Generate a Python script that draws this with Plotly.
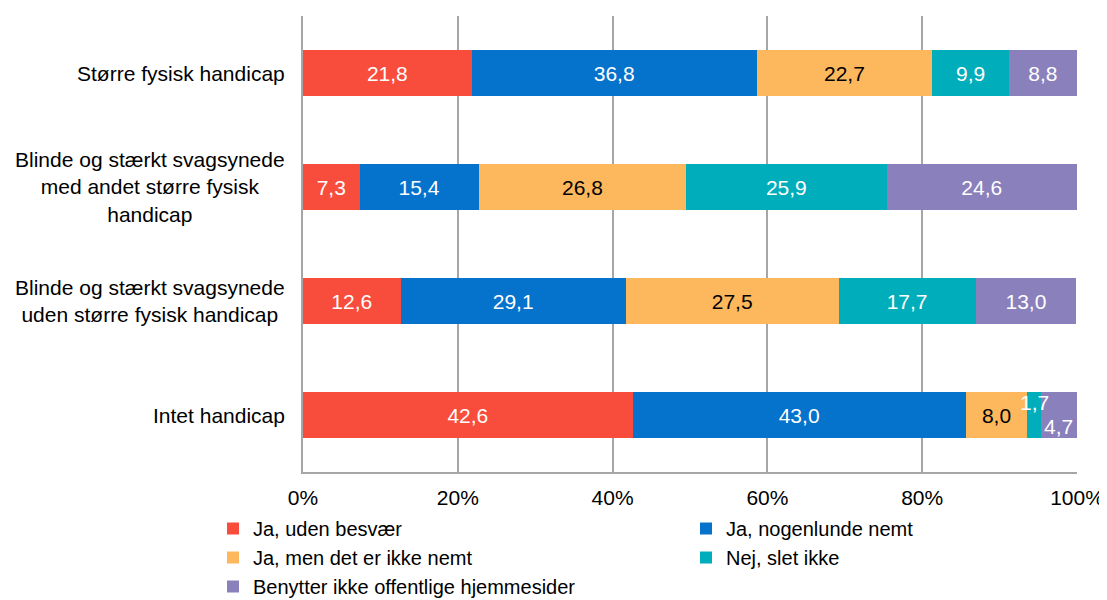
import plotly.graph_objects as go

categories = [
    "Større fysisk handicap",
    "Blinde og stærkt svagsynede<br>med andet større fysisk<br>handicap",
    "Blinde og stærkt svagsynede<br>uden større fysisk handicap",
    "Intet handicap",
]
series_names = [
    "Ja, uden besvær",
    "Ja, nogenlunde nemt",
    "Ja, men det er ikke nemt",
    "Nej, slet ikke",
    "Benytter ikke offentlige hjemmesider",
]
ja_uden = [21.8, 7.3, 12.6, 42.6]
ja_nogenlunde = [36.8, 15.4, 29.1, 43.0]
ja_men = [22.7, 26.8, 27.5, 8.0]
nej = [9.9, 25.9, 17.7, 1.7]
benytter_ikke = [8.8, 24.6, 13.0, 4.7]
x_ticks = [0, 20, 40, 60, 80, 100]
x_tick_labels = ["0%", "20%", "40%", "60%", "80%", "100%"]

series_values = [ja_uden, ja_nogenlunde, ja_men, nej, benytter_ikke]
colors = ["#F84D3C", "#0572CC", "#FDB85E", "#00ADBA", "#8A80BB"]
text_colors = ["white", "white", "black", "white", "white"]
legend_ids = ["legend", "legend2", "legend", "legend2", "legend"]

FONT = "Liberation Sans, Arial, sans-serif"
FS = 21

def fmt(v):
    return f"{v:.1f}".replace(".", ",")

# segments too narrow for an inside label get a shifted annotation instead
outside = {(3, 3): 13, (3, 4): -11}

fig = go.Figure()
ys = list(range(len(categories)))
for si, (name, vals) in enumerate(zip(series_names, series_values)):
    texts = []
    for ci, v in enumerate(vals):
        texts.append("" if (ci, si) in outside else fmt(v))
    fig.add_trace(go.Bar(
        y=ys, x=vals, name=name, orientation="h",
        marker=dict(color=colors[si], line=dict(width=0)),
        text=texts, textposition="inside", insidetextanchor="middle",
        textangle=0, constraintext="none",
        textfont=dict(family=FONT, size=FS, color=text_colors[si]),
        width=0.4, hoverinfo="x+name", legend=legend_ids[si],
    ))

annotations = []
for (ci, si), dy in outside.items():
    start = sum(series_values[k][ci] for k in range(si))
    mid = start + series_values[si][ci] / 2
    annotations.append(dict(
        x=mid, y=ci, xref="x", yref="y", text=fmt(series_values[si][ci]),
        showarrow=False, yshift=dy,
        font=dict(family=FONT, size=FS, color="white"),
    ))
for ci, cat in enumerate(categories):
    annotations.append(dict(
        x=0, y=ci, xref="paper", yref="y", text=cat, showarrow=False,
        xanchor="right", align="center", xshift=-16,
        font=dict(family=FONT, size=FS, color="black"),
    ))

legend_common = dict(
    orientation="v", xanchor="left", yanchor="top",
    yref="container", y=0.1537,
    font=dict(family=FONT, size=20, color="black"),
    itemwidth=30, traceorder="normal", bgcolor="rgba(0,0,0,0)",
)

fig.update_layout(
    width=1099, height=592,
    barmode="stack",
    plot_bgcolor="white", paper_bgcolor="white",
    margin=dict(l=295, r=30, t=8, b=128, autoexpand=False),
    font=dict(family=FONT, size=FS, color="black"),
    xaxis=dict(
        range=[0, 100], tickmode="array", tickvals=x_ticks, ticktext=x_tick_labels,
        showgrid=True, gridcolor="#A6A6A6", gridwidth=1.5,
        showline=True, linecolor="#A6A6A6", linewidth=1.5,
        zeroline=False, ticks="", ticklabelstandoff=6,
        tickfont=dict(family=FONT, size=FS, color="black"),
        fixedrange=True,
    ),
    yaxis=dict(
        range=[3.5, -0.5], showticklabels=False, showgrid=False,
        showline=True, linecolor="#A6A6A6", linewidth=1.5,
        zeroline=False, ticks="", fixedrange=True,
    ),
    legend=dict(x=-0.1163, **legend_common),
    legend2=dict(x=0.4948, **legend_common),
    annotations=annotations,
)

fig.write_html("out.html")
